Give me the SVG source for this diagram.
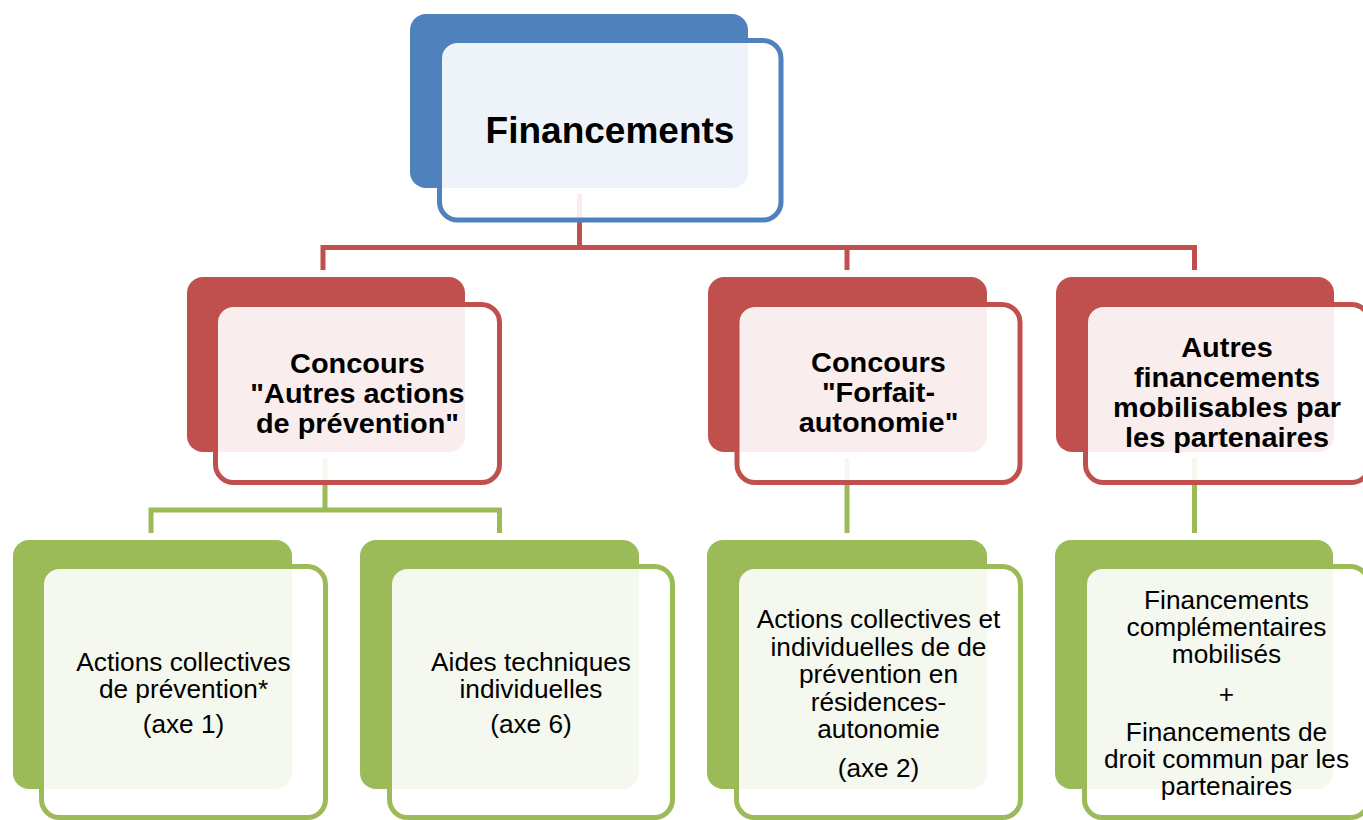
<svg xmlns="http://www.w3.org/2000/svg" width="1363" height="820" viewBox="0 0 1363 820">
<style>
.bg{fill:#fff}
.back-b{fill:#4F81BD}
.back-r{fill:#C0504D}
.back-g{fill:#9BBB59}
.front{fill:#fff;fill-opacity:0.9;stroke-width:5}
.fb{stroke:#4F81BD}
.fr{stroke:#C0504D}
.fg{stroke:#9BBB59}
.cr{fill:none;stroke:#C0504D;stroke-width:5}
.cg{fill:none;stroke:#9BBB59;stroke-width:5}
.t0{font-family:"Liberation Sans",Arial,sans-serif;font-weight:bold;font-size:37px;fill:#000;text-anchor:middle}
.t1{font-family:"Liberation Sans",Arial,sans-serif;font-weight:bold;font-size:27px;fill:#000;text-anchor:middle}
.t2{font-family:"Liberation Sans",Arial,sans-serif;font-size:25px;fill:#000;text-anchor:middle}
</style>
<rect class="bg" x="0" y="0" width="1363" height="820"/>
<g id="connectors">
<path class="cr" d="M579.5,194 V247.5"/>
<path class="cr" d="M323,270 V247.5 H1194.5 V270"/>
<path class="cr" d="M847,247.5 V270"/>
<path class="cg" d="M325,458 V510"/>
<path class="cg" d="M151,533 V510 H499.5 V533"/>
<path class="cg" d="M847,458 V533"/>
<path class="cg" d="M1194.5,458 V533"/>
</g>
<g id="node-financements">
<rect class="back-b" x="410" y="14" width="338" height="174" rx="16"/>
<rect class="front fb" x="439.5" y="40.5" width="341.5" height="179.5" rx="18"/>
<text class="t0" x="610" y="143">Financements</text>
</g>
<g id="node-concours-autres">
<rect class="back-r" x="187" y="277" width="278" height="175" rx="16"/>
<rect class="front fr" x="215.5" y="304.5" width="284" height="178" rx="18"/>
<g transform="translate(357.5 0) scale(1.07 1)">
<text class="t1" x="0" y="373">Concours</text>
<text class="t1" x="0" y="403">"Autres actions</text>
<text class="t1" x="0" y="433">de prévention"</text>
</g>
</g>
<g id="node-concours-forfait">
<rect class="back-r" x="708" y="277" width="279" height="175" rx="16"/>
<rect class="front fr" x="737" y="304.5" width="283" height="178" rx="18"/>
<g transform="translate(878.5 0) scale(1.07 1)">
<text class="t1" x="0" y="372">Concours</text>
<text class="t1" x="0" y="402">"Forfait-</text>
<text class="t1" x="0" y="432">autonomie"</text>
</g>
</g>
<g id="node-autres-financements">
<rect class="back-r" x="1056" y="277" width="278" height="175" rx="16"/>
<rect class="front fr" x="1085.5" y="304.5" width="284" height="178" rx="18"/>
<g transform="translate(1227 0) scale(1.07 1)">
<text class="t1" x="0" y="357">Autres</text>
<text class="t1" x="0" y="387">financements</text>
<text class="t1" x="0" y="417">mobilisables par</text>
<text class="t1" x="0" y="447">les partenaires</text>
</g>
</g>
<g id="node-actions-collectives">
<rect class="back-g" x="13" y="540" width="279" height="249" rx="16"/>
<rect class="front fg" x="41.5" y="566.5" width="284" height="251" rx="18"/>
<g transform="translate(183.5 0) scale(1.05 1)">
<text class="t2" x="0" y="671">Actions collectives</text>
<text class="t2" x="0" y="698">de prévention*</text>
<text class="t2" x="0" y="733">(axe 1)</text>
</g>
</g>
<g id="node-aides-techniques">
<rect class="back-g" x="360" y="540" width="279" height="249" rx="16"/>
<rect class="front fg" x="389.5" y="566.5" width="283" height="251" rx="18"/>
<g transform="translate(531 0) scale(1.05 1)">
<text class="t2" x="0" y="671">Aides techniques</text>
<text class="t2" x="0" y="698">individuelles</text>
<text class="t2" x="0" y="733">(axe 6)</text>
</g>
</g>
<g id="node-actions-residences">
<rect class="back-g" x="707" y="540" width="280" height="249" rx="16"/>
<rect class="front fg" x="736.5" y="566.5" width="284" height="251" rx="18"/>
<g transform="translate(878.5 0) scale(1.05 1)">
<text class="t2" x="0" y="628">Actions collectives et</text>
<text class="t2" x="0" y="656">individuelles de de</text>
<text class="t2" x="0" y="683">prévention en</text>
<text class="t2" x="0" y="711">résidences-</text>
<text class="t2" x="0" y="738">autonomie</text>
<text class="t2" x="0" y="777">(axe 2)</text>
</g>
</g>
<g id="node-financements-complementaires">
<rect class="back-g" x="1055" y="540" width="278" height="249" rx="16"/>
<rect class="front fg" x="1084.5" y="566.5" width="284" height="251" rx="18"/>
<g transform="translate(1226.5 0) scale(1.05 1)">
<text class="t2" x="0" y="609">Financements</text>
<text class="t2" x="0" y="636">complémentaires</text>
<text class="t2" x="0" y="663">mobilisés</text>
<text class="t2" x="0" y="703">+</text>
<text class="t2" x="0" y="741">Financements de</text>
<text class="t2" x="0" y="768">droit commun par les</text>
<text class="t2" x="0" y="795">partenaires</text>
</g>
</g>
</svg>
